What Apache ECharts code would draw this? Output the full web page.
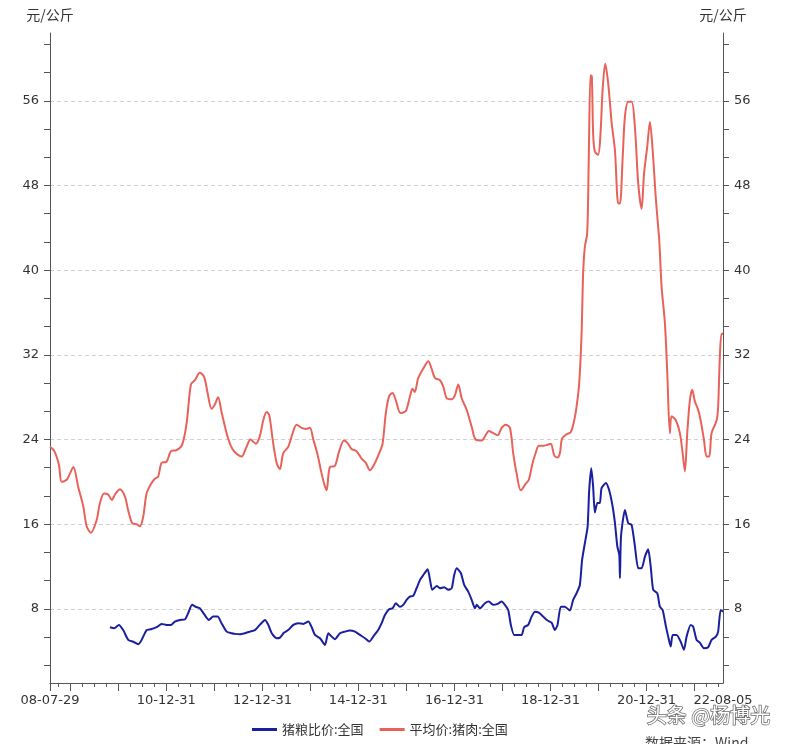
<!DOCTYPE html>
<html>
<head>
<meta charset="utf-8">
<script src="https://cdn.jsdelivr.net/npm/echarts@6/dist/echarts.min.js"></script>
<style>html,body{margin:0;padding:0;background:#fff;}#c{width:789px;height:744px;}</style>
</head>
<body>
<div id="c"></div>
<script>
// ---- data ----
const porkName = '平均价:猪肉:全国';
const ratioName = '猪粮比价:全国';
const unitName = '元/公斤';

const porkDates = ['2008-07-29','2008-08-31','2008-10-05','2008-10-26','2008-12-03','2008-12-28','2009-01-23','2009-03-01','2009-04-08','2009-05-04','2009-06-05','2009-07-19','2009-08-13','2009-09-14','2009-10-15','2009-11-10','2009-12-10','2010-01-12','2010-02-19','2010-03-16','2010-04-15','2010-05-19','2010-06-13','2010-07-08','2010-08-03','2010-09-10','2010-10-05','2010-10-30','2010-11-25','2011-01-02','2011-02-04','2011-03-19','2011-04-30','2011-06-03','2011-07-06','2011-08-05','2011-09-12','2011-10-15','2011-11-10','2011-12-10','2012-01-04','2012-01-29','2012-02-24','2012-04-14','2012-05-28','2012-07-25','2012-09-01','2012-10-01','2012-11-11','2012-12-11','2013-01-06','2013-02-01','2013-02-21','2013-03-19','2013-04-18','2013-05-13','2013-06-07','2013-07-15','2013-08-18','2013-09-17','2013-10-25','2013-11-27','2013-12-27','2014-01-22','2014-02-21','2014-03-26','2014-04-13','2014-05-03','2014-05-28','2014-07-05','2014-08-07','2014-09-12','2014-10-07','2014-11-09','2014-12-17','2015-01-24','2015-02-26','2015-03-28','2015-04-28','2015-06-07','2015-07-03','2015-07-28','2015-08-22','2015-09-17','2015-10-12','2015-11-17','2015-12-27','2016-01-26','2016-02-16','2016-03-04','2016-03-30','2016-05-08','2016-06-15','2016-07-10','2016-08-05','2016-09-12','2016-10-07','2016-11-02','2016-12-10','2017-01-04','2017-01-29','2017-02-24','2017-04-03','2017-05-11','2017-06-10','2017-07-26','2017-08-20','2017-09-19','2017-10-22','2017-11-24','2017-12-25','2018-01-24','2018-02-26','2018-03-23','2018-04-18','2018-05-20','2018-06-25','2018-07-20','2018-08-14','2018-09-09','2018-10-04','2018-11-06','2018-12-09','2019-01-03','2019-01-29','2019-02-23','2019-03-13','2019-03-30','2019-05-03','2019-06-04','2019-06-30','2019-07-18','2019-08-07','2019-08-25','2019-09-06','2019-09-19','2019-10-07','2019-10-19','2019-11-01','2019-11-11','2019-11-21','2019-12-04','2019-12-29','2020-01-16','2020-02-01','2020-02-21','2020-03-15','2020-04-10','2020-05-05','2020-05-30','2020-06-12','2020-07-03','2020-07-20','2020-08-14','2020-09-09','2020-10-04','2020-10-29','2020-11-24','2020-12-12','2021-01-06','2021-01-26','2021-02-16','2021-03-13','2021-04-07','2021-04-25','2021-05-20','2021-06-07','2021-06-27','2021-07-10','2021-08-12','2021-09-11','2021-10-02','2021-10-19','2021-11-06','2021-11-26','2021-12-14','2022-01-03','2022-01-28','2022-02-16','2022-03-13','2022-04-02','2022-04-22','2022-05-10','2022-06-17','2022-06-29','2022-07-12','2022-07-25','2022-08-05'];
const porkPrice = [23.3,22.9,21.6,20.0,20.2,20.8,21.4,19.5,17.7,15.8,15.2,16.4,18.0,18.9,18.8,18.3,18.9,19.3,18.6,17.3,16.1,16.0,15.8,16.7,18.9,19.9,20.3,20.5,21.8,21.9,22.9,23.0,23.5,25.5,29.2,29.6,30.3,29.9,28.4,26.9,27.3,28.0,26.6,24.1,22.9,22.4,23.3,24.0,23.6,24.3,25.8,26.6,26.3,24.0,21.8,21.2,22.7,23.3,24.6,25.4,25.1,25.0,25.1,24.0,22.7,20.8,19.9,19.2,21.4,21.5,22.9,23.9,23.7,23.1,22.9,22.2,21.8,21.1,21.6,22.7,23.6,26.5,28.1,28.4,27.7,26.5,26.7,28.0,28.8,28.5,29.8,30.7,31.4,30.7,29.8,29.6,29.0,27.9,27.8,28.2,29.2,27.9,26.8,25.2,24.0,23.9,24.3,24.8,24.6,24.4,25.1,25.4,25.1,22.7,20.8,19.2,19.8,20.2,21.6,22.7,23.4,23.4,23.5,23.6,22.5,22.3,22.7,24.1,24.5,24.7,25.8,27.1,29.3,34.0,39.7,42.2,43.5,50.7,58.4,58.3,52.9,51.2,50.9,52.9,57.0,59.5,57.6,53.9,51.3,46.3,46.3,50.7,54.5,55.9,55.9,53.5,48.2,45.8,49.1,51.7,54.0,51.3,46.6,42.8,38.4,35.0,30.3,24.6,26.2,25.8,24.6,22.7,21.0,24.6,27.7,28.7,27.6,26.8,25.8,24.0,22.4,22.4,24.6,25.8,27.1,31.8,34.0,34.0];

const ratioDates = ['2009-10-28','2009-11-29','2010-01-04','2010-02-06','2010-03-16','2010-04-23','2010-05-31','2010-06-26','2010-08-03','2010-09-04','2010-10-18','2010-11-25','2011-01-02','2011-02-04','2011-03-06','2011-04-13','2011-05-21','2011-06-15','2011-07-15','2011-08-10','2011-09-12','2011-10-15','2011-11-19','2011-12-22','2012-01-25','2012-02-24','2012-04-03','2012-05-11','2012-06-04','2012-07-13','2012-08-20','2012-09-27','2012-11-04','2012-12-11','2013-01-20','2013-02-14','2013-03-12','2013-04-18','2013-05-13','2013-06-14','2013-07-15','2013-08-23','2013-09-30','2013-11-07','2013-12-15','2014-01-10','2014-02-04','2014-03-14','2014-04-21','2014-05-16','2014-06-11','2014-07-05','2014-08-13','2014-09-20','2014-10-28','2014-12-05','2015-01-12','2015-02-19','2015-03-24','2015-04-23','2015-05-31','2015-06-26','2015-07-21','2015-08-22','2015-09-17','2015-10-12','2015-11-12','2015-12-07','2016-01-02','2016-01-26','2016-02-21','2016-03-18','2016-04-13','2016-05-08','2016-06-10','2016-06-28','2016-07-15','2016-08-18','2016-09-12','2016-10-14','2016-11-14','2016-12-10','2016-12-29','2017-01-17','2017-02-18','2017-03-15','2017-04-15','2017-05-11','2017-06-05','2017-06-18','2017-07-13','2017-08-20','2017-09-19','2017-10-22','2017-11-24','2017-12-25','2018-01-19','2018-02-13','2018-03-05','2018-03-30','2018-04-30','2018-05-26','2018-06-14','2018-07-15','2018-08-10','2018-09-04','2018-10-04','2018-11-06','2018-12-09','2019-01-09','2019-02-03','2019-02-23','2019-03-20','2019-04-20','2019-05-28','2019-06-22','2019-07-18','2019-08-12','2019-08-29','2019-09-19','2019-10-10','2019-10-22','2019-11-07','2019-11-21','2019-12-04','2019-12-23','2020-01-11','2020-01-24','2020-02-26','2020-03-22','2020-04-17','2020-05-05','2020-05-23','2020-06-07','2020-06-12','2020-06-20','2020-07-20','2020-08-14','2020-09-09','2020-10-04','2020-10-29','2020-11-24','2020-12-19','2021-01-13','2021-02-01','2021-02-20','2021-03-23','2021-04-12','2021-05-03','2021-05-28','2021-06-14','2021-07-03','2021-07-18','2021-08-17','2021-09-17','2021-10-12','2021-11-01','2021-12-02','2021-12-21','2022-01-16','2022-02-10','2022-03-13','2022-04-14','2022-05-10','2022-06-12','2022-06-29','2022-07-18','2022-08-05'];
const ratioValues = [6.27,6.17,6.49,6.0,5.07,4.9,4.66,5.07,6.0,6.08,6.27,6.58,6.49,6.49,6.8,6.96,7.0,7.59,8.38,8.2,8.06,7.5,6.96,7.27,7.27,6.65,5.85,5.7,5.64,5.6,5.7,5.85,6.0,6.49,6.96,6.49,5.7,5.23,5.29,5.76,6.0,6.49,6.65,6.58,6.8,6.27,5.54,5.23,4.6,5.7,5.38,5.14,5.7,5.85,5.95,5.85,5.54,5.23,4.91,5.38,6.0,6.65,7.43,7.97,8.06,8.54,8.2,8.38,8.85,9.16,9.22,9.95,10.74,11.2,11.75,10.74,9.8,10.17,9.95,10.05,9.8,9.95,11.2,11.84,11.37,10.26,9.63,8.85,8.06,8.38,8.06,8.54,8.69,8.38,8.47,8.69,8.38,7.9,6.49,5.54,5.54,5.54,6.27,6.49,7.27,7.74,7.65,7.27,6.9,6.7,6.0,6.49,8.2,8.2,7.84,8.85,9.48,10.26,12.62,14.2,15.77,19.2,21.28,19.55,17.1,18.0,18.0,19.4,19.9,19.2,17.7,16.1,13.9,13.1,10.9,14.83,17.35,16.1,15.93,13.9,11.84,11.84,12.94,13.63,12.0,9.8,9.48,8.2,7.9,6.33,5.38,4.44,5.54,5.54,4.91,4.13,5.38,6.49,6.33,5.07,4.82,4.29,4.38,5.07,5.38,5.85,7.9,7.74];

const xStart = '2008-07-29';
const xEnd = '2022-08-05';
const xLabelDates = ['2008-07-29','2010-12-31','2012-12-31','2014-12-31','2016-12-31','2018-12-31','2020-12-31','2022-08-05'];
const yLabelValues = [8,16,24,32,40,48,56];
const yMin = 1.0, yMax = 62.4;

// ---- helpers: date string <-> number (UTC ms) ----
const ts = s => Date.parse(s + 'T00:00:00Z');
const pad = n => (n < 10 ? '0' : '') + n;
const fmtDate = v => { const d = new Date(v); return pad(d.getUTCFullYear() % 100) + '-' + pad(d.getUTCMonth() + 1) + '-' + pad(d.getUTCDate()); };

// ---- ticks (axis furniture) ----
const yearTicks = [ts(xStart)];
for (let y = 2008; y <= 2021; y++) yearTicks.push(ts(y + '-12-31'));
const quarterTicks = [];
for (let y = 2008; y <= 2022; y++) {
  ['-03-31','-06-30','-09-30'].forEach(s => {
    const d = y + s;
    if (d > xStart && d < xEnd) quarterTicks.push(ts(d));
  });
}
const yMinorTicks = [];
for (let k = 1; k * 8 / 3 <= yMax; k++) yMinorTicks.push(k * 8 / 3);

const numFont = 'DejaVu Sans';
const cjkFont = 'Noto Sans CJK SC';
const axisColor = '#555';

const chart = echarts.init(document.getElementById('c'));
const yCommon = {
  type: 'value', min: yMin, max: yMax,
  axisLine: { show: true, lineStyle: { color: axisColor } },
  axisTick: { show: true, length: 6, customValues: yMinorTicks, lineStyle: { color: axisColor } },
  axisLabel: { customValues: yLabelValues, color: '#333', fontSize: 13, fontFamily: numFont, margin: 11 },
  splitLine: { show: false },
  name: unitName, nameLocation: 'end', nameGap: 11,
  nameTextStyle: { color: '#333', fontSize: 14, fontFamily: cjkFont, align: 'center' }
};
chart.setOption({
  animation: false,
  backgroundColor: '#fff',
  grid: { left: 50, right: 66, top: 33, bottom: 61 },
  legend: {
    left: 252, top: 723, padding: 0, itemGap: 16, icon: 'rect', itemWidth: 25, itemHeight: 3,
    textStyle: { color: '#333', fontSize: 13, fontFamily: cjkFont },
    data: [ratioName, porkName]
  },
  xAxis: [
    {
      type: 'value', min: ts(xStart), max: ts(xEnd), position: 'bottom',
      axisLine: { show: true, lineStyle: { color: axisColor } },
      axisTick: { show: true, length: 8, customValues: yearTicks, lineStyle: { color: axisColor } },
      axisLabel: { customValues: xLabelDates.map(ts), formatter: fmtDate, color: '#333', fontSize: 13, fontFamily: numFont, margin: 11 },
      splitLine: { show: false }
    },
    {
      type: 'value', min: ts(xStart), max: ts(xEnd), position: 'bottom',
      axisLine: { show: false },
      axisTick: { show: true, length: 4, customValues: quarterTicks, lineStyle: { color: axisColor } },
      axisLabel: { show: false },
      splitLine: { show: false }
    }
  ],
  yAxis: [
    Object.assign({}, yCommon, { position: 'left' }),
    Object.assign({}, yCommon, { position: 'right' }),
    {
      type: 'value', min: yMin, max: yMax, position: 'left',
      axisLine: { show: false },
      axisTick: { show: false, customValues: yLabelValues },
      axisLabel: { show: false },
      splitLine: { show: true, lineStyle: { color: '#d0d0d0', type: [4, 3], width: 1 } }
    }
  ],
  series: [
    {
      name: ratioName, type: 'line', xAxisIndex: 0, yAxisIndex: 0,
      data: ratioDates.map((d, i) => [ts(d), ratioValues[i]]),
      showSymbol: false, smooth: 0.2,
      lineStyle: { color: '#1a1f9e', width: 2 }, itemStyle: { color: '#1a1f9e' }
    },
    {
      name: porkName, type: 'line', xAxisIndex: 0, yAxisIndex: 0,
      data: porkDates.map((d, i) => [ts(d), porkPrice[i]]),
      showSymbol: false, smooth: 0.3,
      lineStyle: { color: '#e8625a', width: 2 }, itemStyle: { color: '#e8625a' }
    }
  ],
  graphic: [
    {
      type: 'text', left: 646, top: 705, z: 100,
      style: { text: '头条 @杨博光', fill: '#ffffff', stroke: 'rgba(80,80,80,0.85)', lineWidth: 1.5, strokeFirst: true, font: '20px "Noto Sans CJK SC"' }
    },
    {
      type: 'text', left: 645, top: 736, z: 100,
      style: { text: '数据来源：Wind', fill: '#444', font: '14px "Noto Sans CJK SC"' }
    }
  ]
});
</script>
</body>
</html>
